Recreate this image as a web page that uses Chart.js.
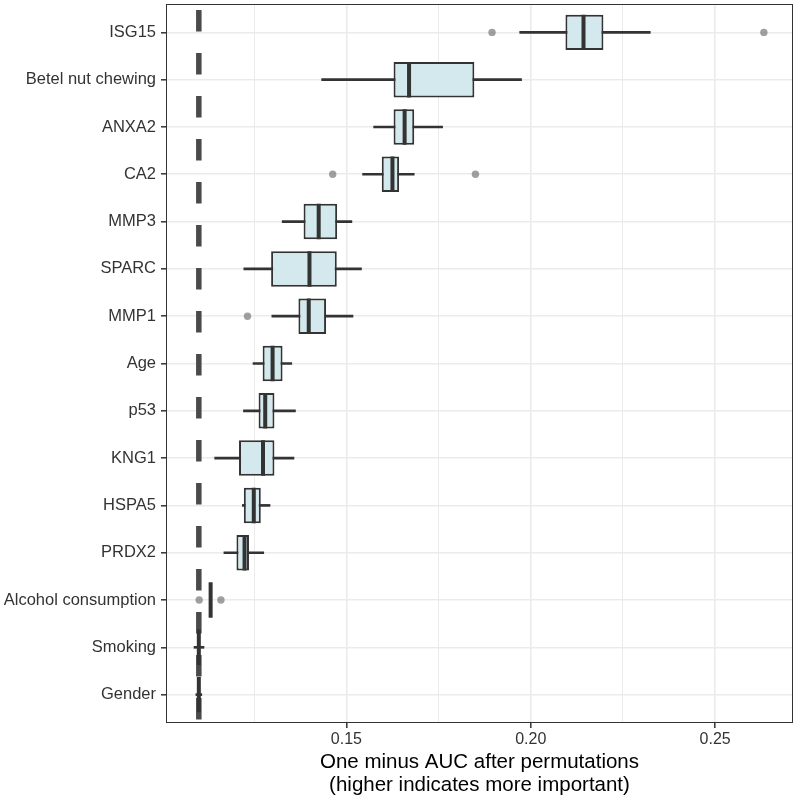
<!DOCTYPE html>
<html>
<head>
<meta charset="utf-8">
<script src="https://cdn.jsdelivr.net/npm/chart.js@4/dist/chart.umd.min.js"></script>
<style>
  body { margin: 0; background: #fff; }
  canvas { display: block; }
</style>
</head>
<body>
<canvas id="myChart" width="797" height="797"></canvas>
<script>
// Variables, du haut vers le bas
const categories = ['ISG15', 'Betel nut chewing', 'ANXA2', 'CA2', 'MMP3', 'SPARC', 'MMP1', 'Age',
    'p53', 'KNG1', 'HSPA5', 'PRDX2', 'Alcohol consumption', 'Smoking', 'Gender'];

// Statistiques des boîtes (one minus AUC)
const whiskerLow  = [0.1970, 0.1433, 0.1574, 0.1544, 0.1326, 0.1222, 0.1298, 0.1247, 0.1221, 0.1143, 0.1218, 0.1168, 0.1132, 0.1087, 0.1092];
const q1          = [0.2094, 0.1628, 0.1628, 0.1596, 0.1384, 0.1296, 0.1370, 0.1273, 0.1262, 0.1209, 0.1222, 0.1202, 0.1132, 0.1100, 0.1100];
const medians     = [0.2143, 0.1670, 0.1658, 0.1625, 0.1425, 0.1400, 0.1398, 0.1300, 0.1280, 0.1274, 0.1249, 0.1224, 0.1132, 0.1100, 0.1100];
const q3          = [0.2197, 0.1847, 0.1684, 0.1643, 0.1475, 0.1474, 0.1445, 0.1327, 0.1305, 0.1305, 0.1268, 0.1236, 0.1132, 0.1100, 0.1100];
const whiskerHigh = [0.2324, 0.1975, 0.1761, 0.1684, 0.1515, 0.1541, 0.1518, 0.1352, 0.1362, 0.1358, 0.1293, 0.1276, 0.1132, 0.1114, 0.1108];

// Valeurs aberrantes
const outlierCats   = ['ISG15', 'ISG15', 'CA2', 'CA2', 'MMP1', 'Alcohol consumption', 'Alcohol consumption'];
const outlierValues = [0.1895, 0.2632, 0.1463, 0.1850, 0.1232, 0.1101, 0.1160];

// Ligne de référence (modèle complet)
const baseline = 0.110;

const xTicks = [0.125, 0.15, 0.175, 0.2, 0.225, 0.25];
const xMin = 0.1011;
const xMax = 0.2711;

const isMajor = v => Math.round(v * 1000) % 50 === 0;

const idx = c => categories.indexOf(c);

const panelPlugin = {
    id: 'panel',
    beforeDraw(chart) {
        const ctx = chart.ctx;
        ctx.save();
        ctx.fillStyle = '#fff';
        ctx.fillRect(0, 0, chart.width, chart.height);
        ctx.restore();
    },
    beforeDatasetsDraw(chart) {
        const { ctx, chartArea } = chart;
        const px = chart.scales.x.getPixelForValue(baseline);
        ctx.save();
        ctx.strokeStyle = '#4a4a4a';
        ctx.lineWidth = 5.5;
        ctx.setLineDash([21.5, 21.5]);
        ctx.lineDashOffset = 37;
        ctx.beginPath();
        ctx.moveTo(px, chartArea.top);
        ctx.lineTo(px, chartArea.bottom);
        ctx.stroke();
        ctx.restore();
    },
    afterDatasetDraw(chart, args) {
        if (args.index !== 1) return;
        const ctx = chart.ctx;
        const meta = chart.getDatasetMeta(1);
        const xScale = chart.scales.x;
        ctx.save();
        ctx.strokeStyle = '#333333';
        ctx.lineWidth = 4;
        ctx.beginPath();
        medians.forEach((m, i) => {
            const bar = meta.data[i].getProps(['y', 'height'], true);
            const px = xScale.getPixelForValue(m);
            ctx.moveTo(px, bar.y - bar.height / 2);
            ctx.lineTo(px, bar.y + bar.height / 2);
        });
        ctx.stroke();
        ctx.restore();
    },
    afterDraw(chart) {
        const { ctx, chartArea } = chart;
        ctx.save();
        ctx.strokeStyle = '#333333';
        ctx.lineWidth = 1;
        ctx.strokeRect(chartArea.left + 0.5, chartArea.top + 0.5,
            chartArea.right - chartArea.left - 1, chartArea.bottom - chartArea.top - 1);
        ctx.restore();
    },
};

const ctx = document.getElementById('myChart').getContext('2d');
new Chart(ctx, {
    type: 'bar',
    data: {
        datasets: [
            {
                // moustaches
                label: 'whiskers',
                data: categories.map((c, i) => ({ y: i, x: [whiskerLow[i], whiskerHigh[i]] })),
                backgroundColor: '#333333',
                barThickness: 2,
                grouped: false,
                order: 3,
            },
            {
                // boîtes
                label: 'boxes',
                data: categories.map((c, i) => ({ y: i, x: [q1[i], q3[i]] })),
                backgroundColor: '#d3e9ee',
                borderColor: '#333333',
                borderWidth: 2,
                borderSkipped: false,
                categoryPercentage: 1,
                barPercentage: 0.75,
                grouped: false,
                order: 2,
            },
            {
                // points aberrants
                type: 'line',
                label: 'outliers',
                indexAxis: 'y',
                data: outlierValues.map((v, i) => ({ x: v, y: idx(outlierCats[i]) })),
                showLine: false,
                pointRadius: 3.7,
                pointBorderWidth: 0,
                pointBackgroundColor: 'rgba(120,120,120,0.7)',
                order: 1,
            },
        ],
    },
    options: {
        indexAxis: 'y',
        responsive: false,
        animation: false,
        layout: { padding: { top: 1, right: 2, left: 0, bottom: 0 } },
        plugins: {
            legend: { display: false },
            tooltip: { enabled: false },
        },
        scales: {
            y: {
                type: 'linear',
                reverse: true,
                offset: false,
                min: -0.6,
                max: categories.length - 1 + 0.6,
                afterBuildTicks: scale => {
                    scale.ticks = categories.map((c, i) => ({ value: i }));
                },
                afterFit: scale => {
                    scale.width = 166;
                    scale.paddingTop = 0;
                    scale.paddingBottom = 0;
                },
                border: { display: false },
                grid: {
                    offset: false,
                    color: '#ebebeb',
                    lineWidth: 1.6,
                    tickColor: '#333333',
                    tickLength: 5,
                    tickWidth: 1.5,
                },
                ticks: {
                    autoSkip: false,
                    padding: 5,
                    color: '#333333',
                    font: { family: '"Liberation Sans", Arial, sans-serif', size: 16.5 },
                    callback: v => categories[v] ?? '',
                },
            },
            x: {
                type: 'linear',
                min: xMin,
                max: xMax,
                afterBuildTicks: scale => {
                    scale.ticks = xTicks.map(v => ({ value: v }));
                },
                afterFit: scale => {
                    scale.height = 74;
                    scale.paddingLeft = 0;
                    scale.paddingRight = 0;
                },
                border: { display: false },
                grid: {
                    color: '#ebebeb',
                    lineWidth: c => (isMajor(c.tick.value) ? 1.6 : 1),
                    tickColor: c => (isMajor(c.tick.value) ? '#333333' : 'rgba(0,0,0,0)'),
                    tickLength: 5,
                    tickWidth: 1.5,
                },
                ticks: {
                    autoSkip: false,
                    maxRotation: 0,
                    padding: 2,
                    color: '#333333',
                    font: { family: '"Liberation Sans", Arial, sans-serif', size: 16 },
                    callback: v => (isMajor(v) ? v.toFixed(2) : ''),
                },
                title: {
                    display: true,
                    text: ['One minus AUC after permutations', '(higher indicates more important)'],
                    color: '#000000',
                    font: { family: '"Liberation Sans", Arial, sans-serif', size: 20.5, lineHeight: 1.08 },
                    padding: { top: 0, bottom: 1 },
                },
            },
        },
    },
    plugins: [panelPlugin],
});
</script>
</body>
</html>
